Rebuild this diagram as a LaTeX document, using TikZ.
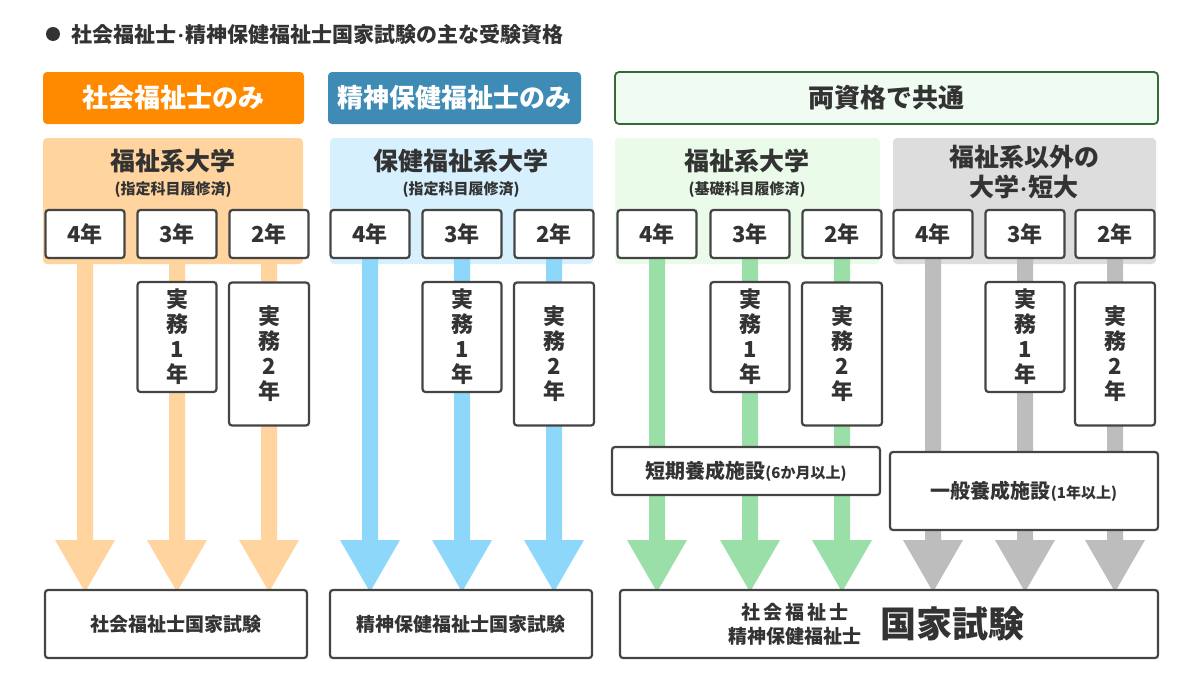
\documentclass[tikz,border=0pt]{standalone}
\usepackage{fontspec}
\setmainfont{Noto Sans CJK JP}
\usetikzlibrary{fit}
\definecolor{bd}{HTML}{444444}
\definecolor{tx}{HTML}{333333}
\definecolor{orD}{HTML}{FF8A00}
\definecolor{orL}{HTML}{FFD49E}
\definecolor{blD}{HTML}{3E8BB5}
\definecolor{blL}{HTML}{D6F1FD}
\definecolor{blA}{HTML}{8DD7FA}
\definecolor{grL}{HTML}{EAFBEA}
\definecolor{grA}{HTML}{99DFA7}
\definecolor{grH}{HTML}{F0FBF2}
\definecolor{gyL}{HTML}{DDDDDD}
\definecolor{gyA}{HTML}{BDBDBD}
\begin{document}
\begin{tikzpicture}[x=1pt,y=-1pt,
 box/.style={draw=bd,line width=2.2pt,fill=white,rounded corners=3pt,inner sep=0pt,text=tx,font=\bfseries\fontsize{22}{26}\selectfont},
 hdr/.style={rounded corners=4pt,inner sep=0pt},
 hdrt/.style={font=\bfseries\fontsize{26}{30}\selectfont},
 pan/.style={rounded corners=4pt,inner sep=0pt},
 ptitle/.style={text=tx,font=\bfseries\fontsize{25}{29}\selectfont,align=center},
 psub/.style={text=tx,font=\bfseries\fontsize{15}{18}\selectfont},
 vbox/.style={box,align=center,font=\bfseries\fontsize{22}{25}\selectfont}]
\useasboundingbox (0,0) rectangle (1200,680);
\newcommand\arr[2]{\fill[#2] (#1-8,250) -- (#1+8,250) -- (#1+8,540) -- (#1+30,540) -- (#1,592) -- (#1-30,540) -- (#1-8,540) -- cycle;}
\fill[tx] (53,34) circle (7);
\node[anchor=west,text=tx,font=\bfseries\fontsize{21}{24}\selectfont] (title) at (68,34) {社会福祉士{\fontsize{17}{20}\selectfont ･}精神保健福祉士国家試験の主な受験資格};
\node[hdr,fill=orD,fit={(43,72)(304,124)}] (h1) {};
\node[text=white,hdrt] at (h1.center) {社会福祉士のみ};
\node[hdr,fill=blD,fit={(328,72)(581,124)}] (h2) {};
\node[text=white,hdrt] at (h2.center) {精神保健福祉士のみ};
\node[hdr,fill=grH,draw=bd!80!green,line width=1.8pt,fit={(615,72)(1158,124)}] (h3) {};
\node[text=tx,hdrt] at (h3.center) {両資格で共通};
\node[pan,fill=orL,fit={(43,138)(303,264)}] (p1) {};
\node[pan,fill=blL,fit={(330,138)(593,264)}] (p2) {};
\node[pan,fill=grL,fit={(615,138)(880,264)}] (p3) {};
\node[pan,fill=gyL,fit={(893,138)(1156,264)}] (p4) {};
\node[ptitle] at (173,161) {福祉系大学};
\node[psub] at (173,190) {(指定科目履修済)};
\node[ptitle] at (461,161) {保健福祉系大学};
\node[psub] at (461,190) {(指定科目履修済)};
\node[ptitle] at (747,161) {福祉系大学};
\node[psub] at (747,190) {(基礎科目履修済)};
\node[ptitle,font=\bfseries\fontsize{25}{30}\selectfont] at (1024,172) {福祉系以外の\\大学{\fontsize{18}{20}\selectfont ･}短大};
\foreach \x in {85,177,269}{\arr{\x}{orL}}
\foreach \x in {370,462,554}{\arr{\x}{blA}}
\foreach \x in {657,750,842}{\arr{\x}{grA}}
\foreach \x in {933,1025,1115}{\arr{\x}{gyA}}
\foreach \n/\x/\t in {a4/85/4年,a3/177/3年,a2/269/2年,b4/370/4年,b3/462/3年,b2/554/2年,c4/657/4年,c3/750/3年,c2/842/2年,d4/933/4年,d3/1025/3年,d2/1115/2年}{
 \node[box,minimum width=79pt,minimum height=48pt] (\n) at (\x,234) {\t};}
\foreach \n/\x in {a/177,b/462,c/750,d/1025}{
 \node[vbox,minimum width=79pt,minimum height=110pt] (\n p1) at (\x,337) {実\\務\\1\\年};}
\foreach \n/\x in {a/269,b/554,c/842,d/1115}{
 \node[vbox,minimum width=80pt,minimum height=143pt] (\n p2) at (\x,354) {実\\務\\2\\年};}
\node[box,fit={(612,447)(880,495)}] (f1) {};
\node[text=tx,font=\bfseries\fontsize{20}{24}\selectfont] at (f1.center) {短期養成施設{\fontsize{15}{18}\selectfont(6か月以上)}};
\node[box,fit={(890,452)(1158,530)}] (f2) {};
\node[text=tx,font=\bfseries\fontsize{20}{24}\selectfont] at (f2.center) {一般養成施設{\fontsize{15}{18}\selectfont(1年以上)}};
\node[box,fit={(45,590)(307,658)}] (e1) {};
\node[text=tx,font=\bfseries\fontsize{19}{22}\selectfont] at (e1.center) {社会福祉士国家試験};
\node[box,fit={(330,590)(592,658)}] (e2) {};
\node[text=tx,font=\bfseries\fontsize{19}{22}\selectfont] at (e2.center) {精神保健福祉士国家試験};
\node[box,fit={(620,590)(1158,658)}] (e3) {};
\node[text=tx,font=\bfseries\fontsize{19}{24}\selectfont,align=center] at (795,624) {社\,会\,福\,祉\,士\\精神保健福祉士};
\node[text=tx,font=\bfseries\fontsize{36}{40}\selectfont] at (952,624) {国家試験};
\end{tikzpicture}
\end{document}
